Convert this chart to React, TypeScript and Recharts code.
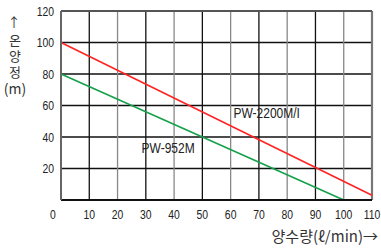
import React from "react";
import { LineChart, Line, XAxis, YAxis, CartesianGrid, ReferenceLine, ReferenceDot, Customized } from "recharts";

const xTicks = [0, 10, 20, 30, 40, 50, 60, 70, 80, 90, 100, 110];
const yTicks = [20, 40, 60, 80, 100, 120];
const pw2200 = [
  { q: 0, h: 100 },
  { q: 110, h: 3 },
];
const pw952 = [
  { q: 0, h: 80 },
  { q: 100, h: 0 },
];
const labels = [
  { name: "PW-2200M/I", q: 61, h: 55 },
  { name: "PW-952M", q: 28.5, h: 33 },
];
const yTitleArrow = "↑";
const yTitleWord = "온양정";
const yTitleUnit = "(m)";
const xTitle = "양수량(ℓ/min)→";

const FONT = "'Liberation Sans', Arial, sans-serif";
const KR = "'Noto Sans CJK KR', sans-serif";

const Narrow = ({ x, y, anchor, size, children }: any) => (
  <text
    transform={`translate(${x},${y}) scale(0.8,1)`}
    x={0}
    y={0}
    textAnchor={anchor}
    fontSize={size}
    fill="#222"
    fontFamily={FONT}
  >
    {children}
  </text>
);

const XTick = (props: any) => {
  const { x, y, payload } = props;
  const dx = payload.value === 0 ? -8 : 0;
  return (
    <Narrow x={x + dx} y={y + 11} anchor="middle" size={13}>
      {payload.value}
    </Narrow>
  );
};

const YTick = (props: any) => {
  const { x, y, payload } = props;
  return (
    <Narrow x={x + 1} y={y + 4.5} anchor="end" size={13}>
      {payload.value}
    </Narrow>
  );
};

const LineLabel = (name: string) => (props: any) => {
  const { viewBox } = props;
  return (
    <Narrow x={viewBox.x} y={viewBox.y + 5} anchor="start" size={15}>
      {name}
    </Narrow>
  );
};

const Titles = () => (
  <g fill="#333" fontFamily={KR}>
    <text x={14} y={27} textAnchor="middle" fontSize={13}>
      {yTitleArrow}
    </text>
    <text
      x={15}
      y={34}
      fontSize={13}
      style={{ writingMode: "vertical-rl", textOrientation: "upright", letterSpacing: "3px" } as any}
    >
      {yTitleWord}
    </text>
    <text x={15} y={94} textAnchor="middle" fontSize={14}>
      {yTitleUnit}
    </text>
    <text x={378} y={242} textAnchor="end" fontSize={15}>
      {xTitle}
    </text>
  </g>
);

export default function App() {
  return (
    <div style={{ position: "absolute", left: 0, top: 0, background: "#fff" }}>
      <LineChart width={381} height={248} margin={{ top: 11, right: 9, bottom: 0, left: 0 }}>
        <CartesianGrid vertical={false} horizontal={true} stroke="#111" strokeWidth={1.3} />
        {xTicks.slice(1).map((v) => (
          <ReferenceLine
            key={v}
            x={v}
            stroke={v === 110 ? "#777" : (v / 10) % 2 === 1 ? "#111" : "#888"}
            strokeWidth={v === 110 ? 2.2 : 1.3}
          />
        ))}
        <ReferenceLine y={120} stroke="#555" strokeWidth={2} />
        <XAxis
          dataKey="q"
          type="number"
          domain={[0, 110]}
          ticks={xTicks}
          interval={0}
          height={48}
          axisLine={{ stroke: "#111", strokeWidth: 2 }}
          tickLine={false}
          tick={<XTick />}
          allowDuplicatedCategory={false}
        />
        <YAxis
          type="number"
          domain={[0, 120]}
          ticks={yTicks}
          interval={0}
          width={61}
          axisLine={{ stroke: "#666", strokeWidth: 2 }}
          tickLine={false}
          tick={<YTick />}
        />
        <Line data={pw2200} dataKey="h" stroke="#ff2323" strokeWidth={1.6} dot={false} isAnimationActive={false} />
        <Line data={pw952} dataKey="h" stroke="#15a04a" strokeWidth={1.6} dot={false} isAnimationActive={false} />
        {labels.map((l) => (
          <ReferenceDot key={l.name} x={l.q} y={l.h} r={0} stroke="none" label={LineLabel(l.name)} />
        ))}
        <Customized component={<Titles />} />
      </LineChart>
    </div>
  );
}
